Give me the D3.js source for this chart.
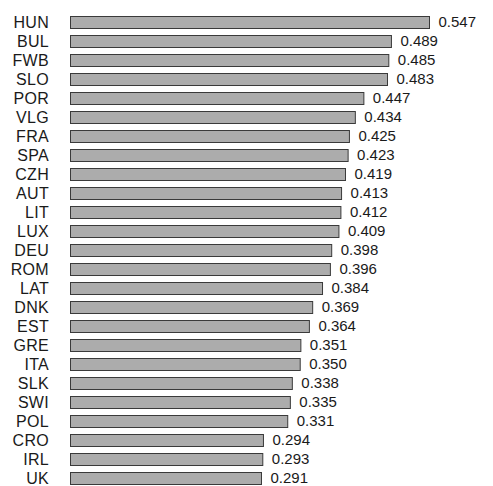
<html>
<head>
    <title>Bars</title>
    <script src="https://d3js.org/d3.v7.min.js"></script>
</head>
<style>
    body { margin: 0; background: #fff; }
    .bar { fill: #acacac; stroke: #3a3a3a; stroke-width: 1px; }
    text { font-family: "Liberation Sans", Arial, sans-serif; fill: #1a1a1a; }
</style>
<body>
<script>
    // data
    let countries = ["HUN", "BUL", "FWB", "SLO", "POR", "VLG", "FRA", "SPA", "CZH", "AUT",
        "LIT", "LUX", "DEU", "ROM", "LAT", "DNK", "EST", "GRE", "ITA", "SLK",
        "SWI", "POL", "CRO", "IRL", "UK"];
    let values = [0.547, 0.489, 0.485, 0.483, 0.447, 0.434, 0.425, 0.423, 0.419, 0.413,
        0.412, 0.409, 0.398, 0.396, 0.384, 0.369, 0.364, 0.351, 0.350, 0.338,
        0.335, 0.331, 0.294, 0.293, 0.291];

    let svgwidth = 493, svgheight = 486;

    let svg = d3.select("body").append("svg")
        .attr("width", svgwidth)
        .attr("height", svgheight);

    let x = d3.scaleLinear().domain([0, 0.547]).range([70.5, 429.5]);
    let y = d3.scaleBand().domain(countries).range([12.5, 487.5])
        .paddingInner(0.33).paddingOuter(0.165);

    let data = countries.map(function (c, i) { return { name: c, value: values[i] }; });

    // bars
    svg.selectAll(".bar")
        .data(data)
        .enter().append("rect")
        .attr("class", "bar")
        .attr("x", x(0))
        .attr("y", function (d) { return Math.round(y(d.name)) + 0.5; })
        .attr("width", function (d) { return x(d.value) - x(0); })
        .attr("height", Math.round(y.bandwidth()) - 1);

    // category labels
    svg.selectAll(".label")
        .data(data)
        .enter().append("text")
        .attr("class", "label")
        .attr("x", 49)
        .attr("y", function (d) { return y(d.name) + y.bandwidth() / 2; })
        .attr("dy", "0.36em")
        .style("text-anchor", "end")
        .style("letter-spacing", "0.3px")
        .attr("font-size", 16)
        .text(function (d) { return d.name; });

    // value labels
    svg.selectAll(".val")
        .data(data)
        .enter().append("text")
        .attr("class", "val")
        .attr("x", function (d) { return x(d.value) + 9; })
        .attr("y", function (d) { return y(d.name) + y.bandwidth() / 2; })
        .attr("dy", "0.36em")
        .attr("font-size", 15)
        .text(function (d) { return d3.format(".3f")(d.value); });
</script>
</body>
</html>
